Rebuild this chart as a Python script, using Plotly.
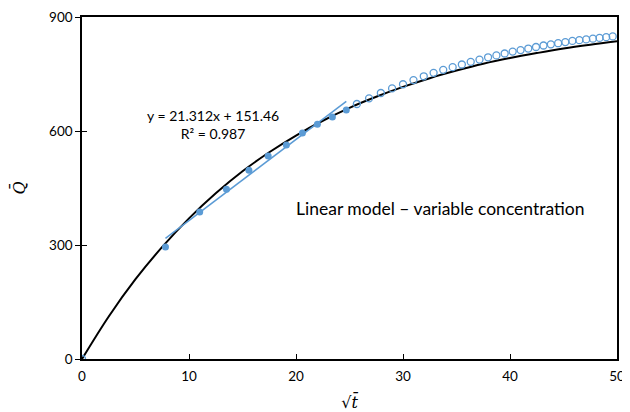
import plotly.graph_objects as go

# Measured data (filled points, used for linear fit)
fit_x = [7.8, 11.0, 13.5, 15.6, 17.4, 19.1, 20.6, 22.0, 23.4, 24.7]
fit_y = [295, 387, 447, 497, 534, 563, 595, 618, 637, 655]

# Remaining measured data (open circles)
open_x = [0, 25.69, 26.83, 27.93, 28.98, 30.0, 30.98, 31.94, 32.86, 33.76, 34.64,
          35.5, 36.33, 37.15, 37.95, 38.73, 39.5, 40.25, 40.99, 41.71, 42.43,
          43.13, 43.82, 44.5, 45.17, 45.83, 46.48, 47.12, 47.75, 48.37, 48.99, 49.6]
open_y = [0, 671, 686, 700, 712, 723, 734, 744, 753, 761, 768,
          775, 782, 788, 794, 799, 804, 809, 813, 817, 821,
          825, 828, 831, 834, 837, 839, 841, 843, 845, 847, 849]

# Model curve (black)
model_x = [0, 2.5, 5, 7.5, 10, 12.5, 15, 17.5, 20, 22.5, 25, 27.5, 30, 32.5,
           35, 37.5, 40, 42.5, 45, 47.5, 50]
model_y = [0, 112, 210, 295, 370, 436, 494, 544, 588, 627, 661, 690, 716, 739,
           759, 777, 792, 805, 817, 827, 836]

# Trendline parameters
slope = 21.312
intercept = 151.46
r2 = 0.987

x_ticks = [0, 10, 20, 30, 40, 50]
y_ticks = [0, 300, 600, 900]

blue = "#5B9BD5"
font = "Lato, 'Open Sans', sans-serif"
math_font = "'DejaVu Serif', serif"

trend_x = [min(fit_x), max(fit_x)]
trend_y = [slope * v + intercept for v in trend_x]

fig = go.Figure()
fig.add_trace(go.Scatter(x=model_x, y=model_y, mode="lines", line=dict(color="black", width=2, shape="spline"),
                         showlegend=False, hoverinfo="skip"))
fig.add_trace(go.Scatter(x=trend_x, y=trend_y, mode="lines", line=dict(color=blue, width=1.5),
                         showlegend=False))
fig.add_trace(go.Scatter(x=open_x, y=open_y, mode="markers",
                         marker=dict(symbol="circle-open", size=7, color=blue, line=dict(width=1.3, color=blue)),
                         showlegend=False))
fig.add_trace(go.Scatter(x=fit_x, y=fit_y, mode="markers",
                         marker=dict(symbol="circle", size=7, color=blue),
                         showlegend=False))
# invisible trace to provide inside y ticks
fig.add_trace(go.Scatter(x=[None], y=[None], yaxis="y2", showlegend=False))

fig.add_annotation(x=12.2, y=617, xref="x", yref="y", text=f"y = {slope}x + {intercept}<br>R² = {r2}",
                   showarrow=False, font=dict(family=font, size=14, color="black"), align="center")
fig.add_annotation(x=33.5, y=397, xref="x", yref="y", text="Linear model – variable concentration",
                   showarrow=False, font=dict(family=font, size=17.5, color="black"))

# page body has an 8px margin: compensate so the plot area lands where it should
fig.update_layout(
    width=622, height=404,
    margin=dict(l=74, r=13, t=9, b=53, autoexpand=False),
    paper_bgcolor="white", plot_bgcolor="white",
    font=dict(family=font, size=13.5, color="black"),
    xaxis=dict(range=[0, 50], tickvals=x_ticks, ticks="inside", ticklen=5, tickcolor="black",
               showline=True, linecolor="black", linewidth=1.5, mirror=True, showgrid=False, zeroline=False,
               automargin=False, ticklabelstandoff=4,
               title=dict(text="√<i>t̄</i>", font=dict(family=math_font, size=16), standoff=16)),
    yaxis=dict(range=[0, 900], tickvals=y_ticks, ticks="outside", ticklen=5, tickcolor="black",
               showline=True, linecolor="black", linewidth=1.5, mirror=True, showgrid=False, zeroline=False,
               automargin=False,
               title=dict(text="<i>Q̄</i>", font=dict(family=math_font, size=16), standoff=24)),
    yaxis2=dict(range=[0, 900], overlaying="y", side="left", tickvals=y_ticks, ticks="inside", ticklen=5,
                tickcolor="black", showticklabels=False, showline=False, showgrid=False, zeroline=False,
                automargin=False),
)

fig.write_html("out.html")
